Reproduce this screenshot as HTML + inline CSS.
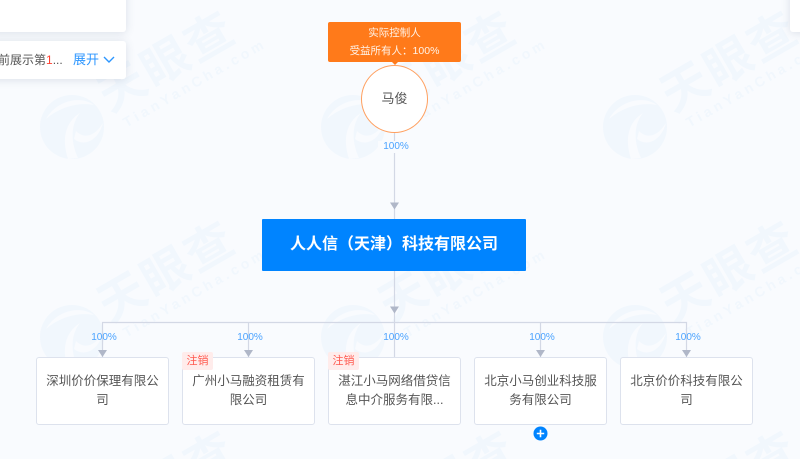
<!DOCTYPE html>
<html><head><meta charset="utf-8"><style>
html,body{margin:0;padding:0;background:#f9fbfe;width:800px;height:459px;overflow:hidden}
#p{position:relative;width:800px;height:459px;overflow:hidden;background:#f9fbfe;font-family:"Liberation Sans","Noto Sans CJK SC",sans-serif;color:#555}
#p>div{position:absolute;box-sizing:border-box}
.c{background:#fff;border:1.5px solid #dde2ed;border-radius:3px;top:357px;width:133px;height:68px;text-align:center;font-size:12.5px;line-height:18.5px;padding-top:14px}
.c span{display:block;height:18.5px;white-space:nowrap}
.x{background:#ffeceb;color:#ff5a50;font-size:11px;line-height:18px;height:18px;width:31px;text-align:center;top:352px;border-radius:2px}
.card{background:#fff;border-radius:3px;box-shadow:0 1px 9px rgba(60,80,120,.16)}
.pc{color:#4ba3ff;font-size:10px;line-height:12px;width:40px;text-align:center}
</style></head><body><div id="p">
<svg width="800" height="459" style="position:absolute;left:0;top:0" font-family="'Liberation Sans','Noto Sans CJK SC',sans-serif">
<defs><g id="w">
<circle cx="0" cy="0" r="32" fill="#f1f7fd"/>
<path d="M-26 -8C-16 -26 8 -32 22 -22C6 -25 -12 -20 -26 -8Z" fill="#f9fbfe"/>
<path d="M-4 32C-10 14 -8 -4 8 -14C-2 -2 -1 16 6 31Z" fill="#f9fbfe"/>
<path d="M4 4C12 12 22 10 31 -4C26 14 12 20 2 12Z" fill="#f9fbfe"/>
<g transform="translate(38,-14) rotate(-30)"><text x="0" y="0" font-size="47" font-weight="700" letter-spacing="3" fill="#f1f7fd">天眼查</text>
<text x="7" y="21" font-size="14" font-weight="700" letter-spacing="3.6" fill="#f1f7fd">TianYanCha.com</text></g>
</g>
<g id="w3"><g transform="translate(38,-14) rotate(-30)"><text x="0" y="0" font-size="47" font-weight="700" letter-spacing="3" fill="#f1f7fd">天眼查</text></g></g></defs>
<use href="#w" x="72" y="127"/><use href="#w" x="353" y="127"/><use href="#w" x="635" y="127"/>
<use href="#w" x="72" y="337"/><use href="#w" x="353" y="337"/><use href="#w" x="635" y="337"/>
<use href="#w3" x="72" y="547"/><use href="#w3" x="353" y="547"/><use href="#w3" x="635" y="547"/>
<g stroke="#d3d8e5" stroke-width="1.2" fill="none">
<path d="M394.5 132V219M394.5 271V322M102.500 358V322.500H686.500V358M248.500 322V358M394.500 322V358M540.500 322V358"/>
</g>
<g fill="#b0b7c8">
<path d="M390 202.500h9l-4.500 7zM390 306.500h9l-4.500 7zM98 350h9l-4.500 7zM244 350h9l-4.500 7zM536 350h9l-4.500 7zM682 350h9l-4.500 7z"/>
</g>
</svg>
<div class="card" style="left:-10px;top:-10px;width:136px;height:42px"></div>
<div class="card" style="left:-10px;top:41px;width:136px;height:38px"></div>
<div class="card" style="left:790px;top:-10px;width:30px;height:42px"></div>
<div style="left:0;top:41px;width:70px;height:38px;overflow:hidden;font-size:12px;line-height:38px;white-space:nowrap;color:#555"><span style="margin-left:-2px">前展示第<span style="color:#ff4030">1</span>...</span></div>
<div style="left:73px;top:41px;font-size:13px;line-height:38px;color:#2c96ff">展开</div>
<svg width="12" height="8" style="position:absolute;left:103px;top:56px"><path d="M1 1l5 5 5-5" fill="none" stroke="#2c96ff" stroke-width="1.4"/></svg>

<div style="left:328px;top:22px;width:133px;height:40px;background:#ff7a1a;border-radius:2px;font-size:10.500px;line-height:18px;text-align:center;padding-top:2px;color:#fff3e8">实际控制人<br>受益所有人：100%</div>
<div style="left:361px;top:65px;width:67px;height:68px;border-radius:50%;background:#fff;border:1.500px solid #ff9f5e;text-align:center;line-height:65px;font-size:13px">马俊</div>
<svg width="8" height="4" style="position:absolute;left:391px;top:61px"><path d="M0 0h8l-4 4z" fill="#ff7a1a"/></svg>
<div class="pc" style="left:376px;top:141px;background:#f9fbfe;width:36px;margin-left:2px">100%</div>

<div style="left:262px;top:219px;width:264px;height:52px;background:#0084ff;border-radius:1px;color:#fff;font-weight:700;font-size:16px;line-height:51px;text-align:center">人人信（天津）科技有限公司</div>

<div class="pc" style="left:84px;top:332px">100%</div>
<div class="pc" style="left:230px;top:332px">100%</div>
<div class="pc" style="left:376px;top:332px">100%</div>
<div class="pc" style="left:522px;top:332px">100%</div>
<div class="pc" style="left:668px;top:332px">100%</div>

<div class="c" style="left:36px"><span>深圳价价保理有限公</span><span>司</span></div>
<div class="c" style="left:182px"><span>广州小马融资租赁有</span><span>限公司</span></div>
<div class="c" style="left:328px"><span>湛江小马网络借贷信</span><span>息中介服务有限...</span></div>
<div class="c" style="left:474px"><span>北京小马创业科技服</span><span>务有限公司</span></div>
<div class="c" style="left:620px"><span>北京价价科技有限公</span><span>司</span></div>
<div class="x" style="left:182px">注销</div>
<div class="x" style="left:328px">注销</div>
<svg width="16" height="16" style="position:absolute;left:533px;top:426px"><circle cx="7.500" cy="7.500" r="7" fill="#0084ff"/><path d="M3.800 7.500h7.400M7.500 3.800v7.400" stroke="#fff" stroke-width="1.600"/></svg>
</div></body></html>
